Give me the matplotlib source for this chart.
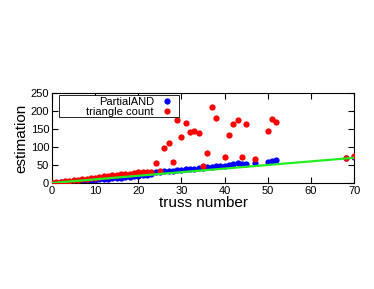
import numpy as np
import matplotlib.pyplot as plt
from matplotlib.patches import Rectangle

plt.rcParams['font.family'] = ['Liberation Sans', 'DejaVu Sans']

# truss number of every sample
truss = [0, 1, 2, 3, 4, 5, 6, 7, 8, 9, 10, 11, 12, 13, 14, 15, 16, 17, 18, 19,
         20, 21, 22, 23, 24, 25, 26, 27, 28, 29, 30, 31, 32, 33, 34, 35, 36, 37,
         38, 39, 40, 41, 42, 43, 44, 45, 47, 50, 51, 52, 68, 70]

# PartialAND estimation
partial_and = [0, 1, 2, 2.5, 3.5, 4.5, 5.5, 6.5, 7.5, 8.5, 9, 10, 11, 12, 13, 14, 15, 16, 17, 18,
               19, 21, 23, 26, 30, 30, 32, 33, 34, 36, 37, 38, 39, 40, 41, 42, 43, 44,
               46, 46, 48, 50, 52, 55, 53, 54, 56, 58, 61, 64, 68, 71]

# triangle count estimation (nan = no point)
triangle = [0, 2, 3, 4.5, 6, 7.5, 9, 10.5, 12, 13.5, 15, 16.5, 18, 19.5, 21, 22.5, 24, 25, 26, 28,
            31, 30, 30, 31, 55, 33, 96, 110, 59, 174, 128, 168, 141, 144, 138, 47, 84, 210,
            182, np.nan, 73, 134, 164, 176, 71, 165, 66, 145, 177, 170, 70, 76]

# reference line
ref_x = [0, 70]
ref_y = [0, 70]

fig = plt.figure(figsize=(3.74, 2.89), dpi=100)
ax = fig.add_axes([0.139, 0.367, 0.808, 0.311])

ax.plot(truss, partial_and, 'o', color='#0000ff', markersize=4.5, markeredgewidth=0,
        label='PartialAND', zorder=2)
ax.plot(truss, triangle, 'o', color='#ff0000', markersize=4.5, markeredgewidth=0,
        label='triangle count', zorder=3)
ax.plot(ref_x, ref_y, '-', color='#22ee22', linewidth=1.6, zorder=4)

ax.set_xlim(0, 70)
ax.set_ylim(0, 250)
ax.set_xticks(range(0, 71, 10))
ax.set_yticks(range(0, 251, 50))
ax.tick_params(direction='in', top=True, right=True, length=4, labelsize=8, pad=2)

ax.set_xlabel('truss number', fontsize=11, labelpad=0)
ax.set_ylabel('estimation', fontsize=11, labelpad=2)

# legend box drawn separately (the original frame is wider than its entries)
ax.add_patch(Rectangle((0.023, 0.733), 0.397, 0.245, transform=ax.transAxes,
                       facecolor='white', edgecolor='black', linewidth=0.6, zorder=5))
leg = ax.legend(loc='upper right', markerfirst=False, numpoints=1, fontsize=8,
                frameon=False, borderpad=0.15, labelspacing=0.0,
                handletextpad=0.6, handlelength=1.2,
                borderaxespad=0, bbox_to_anchor=(0.409, 0.978))
leg.set_zorder(6)

fig.savefig('out.png', dpi=100)
